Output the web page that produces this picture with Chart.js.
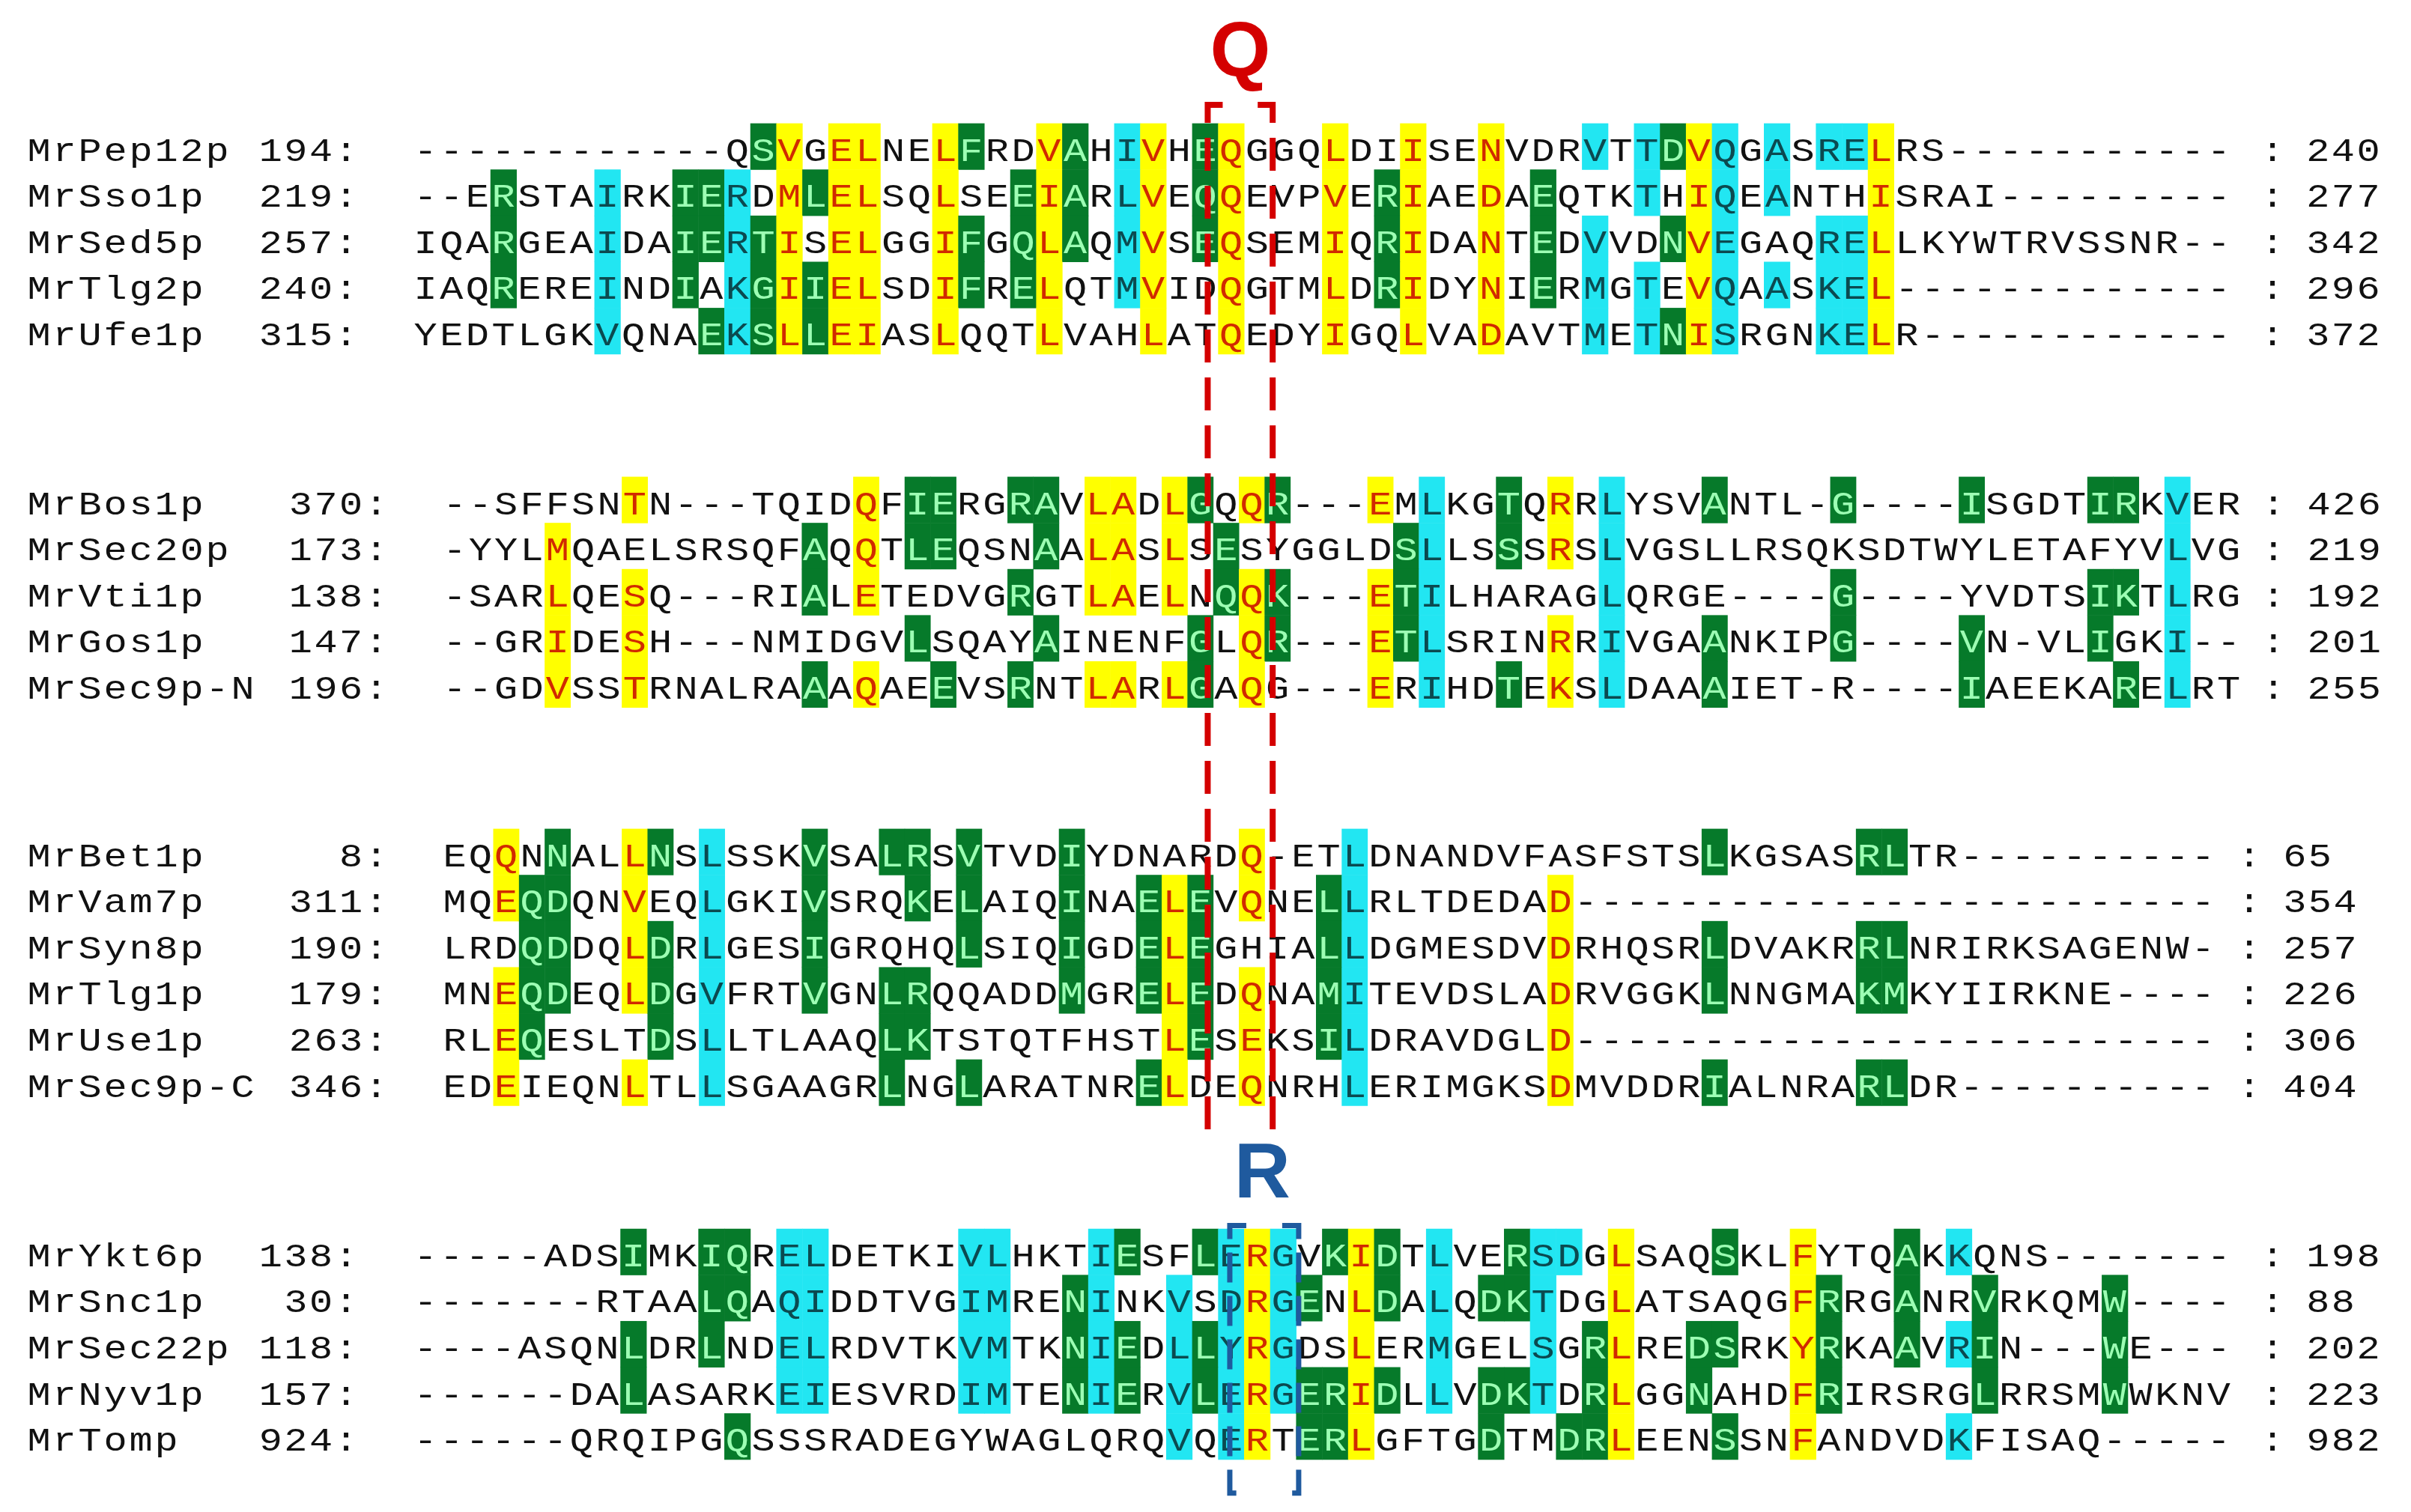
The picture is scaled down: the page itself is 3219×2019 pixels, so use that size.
<!DOCTYPE html>
<html>
<head>
<meta charset="utf-8">
<script src="https://cdn.jsdelivr.net/npm/chart.js@4.4.1/dist/chart.umd.min.js"></script>
<style>
  html, body { margin: 0; padding: 0; background: #fff; }
  #wrap { width: 3219px; height: 2019px; }
</style>
</head>
<body>
<div id="wrap"><canvas id="alignChart"></canvas></div>
<script>
// ---- block 1 (Qa) ----
var block1Names = ['MrPep12p', 'MrSso1p', 'MrSed5p', 'MrTlg2p', 'MrUfe1p'];
var block1Starts = [194, 219, 257, 240, 315];
var block1Ends = [240, 277, 342, 296, 372];
var block1Seqs = [
    '------------QSVGELNELFRDVAHIVHEQGGQLDIISENVDRVTTDVQGASRELRS-----------',
    '--ERSTAIRKIERDMLELSQLSEEIARLVEQQEVPVERIAEDAEQTKTHIQEANTHISRAI---------',
    'IQARGEAIDAIERTISELGGIFGQLAQMVSEQSEMIQRIDANTEDVVDNVEGAQRELLKYWTRVSSNR--',
    'IAQREREINDIAKGIIELSDIFRELQTMVIDQGTMLDRIDYNIERMGTEVQAASKEL-------------',
    'YEDTLGKVQNAEKSLLEIASLQQTLVAHLATQEDYIGQLVADAVTMETNISRGNKELR------------'
];
var block1Yellow = [15, 17, 18, 21, 25, 29, 32, 36, 39, 42, 50, 57];
var block1Green = [
    [14, 22, 26, 31, 49],
    [4, 11, 12, 16, 24, 26, 31, 38, 44],
    [4, 11, 12, 14, 22, 24, 26, 31, 38, 44, 49],
    [4, 11, 14, 16, 22, 24, 38, 44],
    [12, 14, 16, 49]
];
var block1Cyan = [
    [28, 46, 48, 51, 53, 55, 56],
    [8, 13, 28, 48, 51, 53],
    [8, 13, 28, 46, 51, 55, 56],
    [8, 13, 28, 46, 48, 51, 53, 55, 56],
    [8, 13, 46, 48, 51, 55, 56]
];

// ---- block 2 (Qb) ----
var block2Names = ['MrBos1p', 'MrSec20p', 'MrVti1p', 'MrGos1p', 'MrSec9p-N'];
var block2Starts = [370, 173, 138, 147, 196];
var block2Ends = [426, 219, 192, 201, 255];
var block2Seqs = [
    '--SFFSNTN---TQIDQFIERGRAVLADLGQQR---EMLKGTQRRLYSVANTL-G----ISGDTIRKVER',
    '-YYLMQAELSRSQFAQQTLEQSNAALASLSESYGGLDSLLSSSRSLVGSLLRSQKSDTWYLETAFYVLVG',
    '-SARLQESQ---RIALETEDVGRGTLAELNQQK---ETILHARAGLQRGE----G----YVDTSIKTLRG',
    '--GRIDESH---NMIDGVLSQAYAINENFGLQR---ETLSRINRRIVGAANKIPG----VN-VLIGKI--',
    '--GDVSSTRNALRAAAQAEEVSRNTLARLGAQG---ERIHDTEKSLDAAAIET-R----IAEEKARELRT'
];
var block2Yellow = [
    [8, 17, 26, 27, 29, 32, 37, 44],
    [5, 17, 26, 27, 29, 44],
    [5, 8, 17, 26, 27, 29, 32, 37],
    [5, 8, 32, 37, 44],
    [5, 8, 17, 26, 27, 29, 32, 37, 44]
];
var block2Green = [
    [19, 20, 23, 24, 30, 33, 42, 50, 55, 60, 65, 66],
    [15, 19, 20, 24, 31, 38, 42],
    [15, 23, 31, 33, 38, 55, 65, 66],
    [19, 24, 30, 33, 38, 50, 55, 60, 65],
    [15, 20, 23, 30, 42, 50, 60, 66]
];
var block2Cyan = [39, 46, 68];

// ---- block 3 (Qc) ----
var block3Names = ['MrBet1p', 'MrVam7p', 'MrSyn8p', 'MrTlg1p', 'MrUse1p', 'MrSec9p-C'];
var block3Starts = [8, 311, 190, 179, 263, 346];
var block3Ends = [65, 354, 257, 226, 306, 404];
var block3Seqs = [
    'EQQNNALLNSLSSKVSALRSVTVDIYDNARDQ-ETLDNANDVFASFSTSLKGSASRLTR----------',
    'MQEQDQNVEQLGKIVSRQKELAIQINAELEVQNELLRLTDEDAD-------------------------',
    'LRDQDDQLDRLGESIGRQHQLSIQIGDELEGHIALLDGMESDVDRHQSRLDVAKRRLNRIRKSAGENW-',
    'MNEQDEQLDGVFRTVGNLRQQADDMGRELEDQNAMITEVDSLADRVGGKLNNGMAKMKYIIRKNE----',
    'RLEQESLTDSLLTLAAQLKTSTQTFHSTLESEKSILDRAVDGLD-------------------------',
    'EDEIEQNLTLLSGAAGRLNGLARATNRELDEQNRHLERIMGKSDMVDDRIALNRARLDR----------'
];
var block3Yellow = [
    [3, 8, 32],
    [3, 8, 29, 32, 44],
    [8, 29, 44],
    [3, 8, 29, 32, 44],
    [3, 29, 32, 44],
    [3, 8, 29, 32, 44]
];
var block3Green = [
    [5, 9, 15, 18, 19, 21, 25, 50, 56, 57],
    [4, 5, 15, 19, 21, 25, 28, 30, 35],
    [4, 5, 9, 15, 21, 25, 28, 30, 35, 50, 56, 57],
    [4, 5, 9, 15, 18, 19, 25, 28, 30, 35, 50, 56, 57],
    [4, 9, 18, 19, 30, 35],
    [18, 21, 28, 50, 56, 57]
];
var block3Cyan = [11, 36];

// ---- block 4 (R) ----
var block4Names = ['MrYkt6p', 'MrSnc1p', 'MrSec22p', 'MrNyv1p', 'MrTomp'];
var block4Starts = [138, 30, 118, 157, 924];
var block4Ends = [198, 88, 202, 223, 982];
var block4Seqs = [
    '-----ADSIMKIQRELDETKIVLHKTIESFLERGVKIDTLVERSDGLSAQSKLFYTQAKKQNS-------',
    '-------RTAALQAQIDDTVGIMRENINKVSDRGENLDALQDKTDGLATSAQGFRRGANRVRKQMW----',
    '----ASQNLDRLNDELRDVTKVMTKNIEDLLYRGDSLERMGELSGRLREDSRKYRKAAVRIN---WE---',
    '------DALASARKEIESVRDIMTENIERVLERGERIDLLVDKTDRLGGNAHDFRIRSRGLRRSMWWKNV',
    '------QRQIPGQSSSRADEGYWAGLQRQVQERTERLGFTGDTMDRLEENSSNFANDVDKFISAQ-----'
];
var block4Yellow = [33, 37, 47, 54];
var block4Green = [
    [9, 12, 13, 28, 31, 36, 38, 43, 51, 58],
    [12, 13, 26, 35, 38, 42, 43, 55, 58, 61, 66],
    [9, 12, 26, 28, 31, 46, 50, 51, 55, 58, 61, 66],
    [9, 26, 28, 31, 35, 36, 38, 42, 43, 46, 50, 55, 61, 66],
    [13, 35, 36, 42, 45, 46, 51]
];
var block4Cyan = [
    [15, 16, 22, 23, 27, 32, 34, 40, 44, 45, 60],
    [15, 16, 22, 23, 27, 30, 32, 34, 40, 44],
    [15, 16, 22, 23, 27, 30, 32, 34, 40, 44, 60],
    [15, 16, 22, 23, 27, 30, 32, 34, 40, 44],
    [30, 32, 60]
];

var markerLabels = ['Q', 'R'];

// ---- layout (column / row units of the axes) ----
function perRow(v, n) {
    var out = [];
    for (var i = 0; i < n; i++) out.push(Array.isArray(v[0]) ? v[i] : v);
    return out;
}
var blocks = [
    {names: block1Names, starts: block1Starts, ends: block1Ends, seqs: block1Seqs,
     yellow: perRow(block1Yellow, 5), green: block1Green, cyan: block1Cyan,
     x0: 1, step: 1, y0: 0, endGap: 2.07},
    {names: block2Names, starts: block2Starts, ends: block2Ends, seqs: block2Seqs,
     yellow: block2Yellow, green: block2Green, cyan: perRow(block2Cyan, 5),
     x0: 2.124, step: 0.9893, y0: 7.66, endGap: 1.72},
    {names: block3Names, starts: block3Starts, ends: block3Ends, seqs: block3Seqs,
     yellow: block3Yellow, green: block3Green, cyan: perRow(block3Cyan, 6),
     x0: 2.124, step: 0.9893, y0: 15.29, endGap: 1.78},
    {names: block4Names, starts: block4Starts, ends: block4Ends, seqs: block4Seqs,
     yellow: perRow(block4Yellow, 5), green: block4Green, cyan: block4Cyan,
     x0: 1, step: 1, y0: 23.96, endGap: 2.07}
];

var COLORS = {
    green: '#067a2a', greenText: '#9dffb4',
    yellow: '#ffff00', yellowText: '#d12a00',
    cyan: '#22e6f2', cyanText: '#0b4a50',
    text: '#111111'
};

// one invisible point per residue so the scales carry the data
var points = [];
blocks.forEach(function(b) {
    b.seqs.forEach(function(s, r) {
        for (var c = 1; c <= s.length; c++) {
            points.push({x: b.x0 + (c - 1) * b.step, y: b.y0 + r});
        }
    });
});

function kindOf(b, r, c) {
    if (b.green[r].indexOf(c) >= 0) return 'green';
    if (b.yellow[r].indexOf(c) >= 0) return 'yellow';
    if (b.cyan[r].indexOf(c) >= 0) return 'cyan';
    return null;
}

var FONT = '44px "Liberation Mono", "DejaVu Sans Mono", monospace';

function drawChar(ctx, ch, x, y, color) {
    ctx.save();
    ctx.translate(x, y);
    ctx.scale(1.18, 1);
    ctx.fillStyle = color;
    ctx.fillText(ch, 0, 0);
    ctx.restore();
}

var alignPlugin = {
    id: 'alignPlugin',
    afterDatasetsDraw: function(chart) {
        var ctx = chart.ctx;
        var xs = chart.scales.x, ys = chart.scales.y;
        var rowH = ys.getPixelForValue(1) - ys.getPixelForValue(0);
        var colW = xs.getPixelForValue(1) - xs.getPixelForValue(0);
        ctx.save();
        ctx.font = FONT;
        ctx.textAlign = 'center';
        ctx.textBaseline = 'middle';

        blocks.forEach(function(b) {
            var w = colW * b.step;
            // highlight cells
            b.seqs.forEach(function(s, r) {
                var py = ys.getPixelForValue(b.y0 + r);
                for (var c = 1; c <= s.length; c++) {
                    var k = kindOf(b, r, c);
                    if (!k) continue;
                    var px = xs.getPixelForValue(b.x0 + (c - 1) * b.step);
                    ctx.fillStyle = COLORS[k];
                    ctx.fillRect(px - w / 2, py - rowH * 0.59, w + 0.5, rowH + 0.5);
                }
            });
            // residues and labels
            b.seqs.forEach(function(s, r) {
                var py = ys.getPixelForValue(b.y0 + r) + 2;
                for (var c = 1; c <= s.length; c++) {
                    var k = kindOf(b, r, c);
                    var px = xs.getPixelForValue(b.x0 + (c - 1) * b.step);
                    drawChar(ctx, s[c - 1], px, py, k ? COLORS[k + 'Text'] : COLORS.text);
                }
                var name = b.names[r];
                for (var i = 0; i < name.length; i++) {
                    drawChar(ctx, name[i], xs.getPixelForValue(-13.87 + i * 0.98), py, COLORS.text);
                }
                var st = String(b.starts[r]) + ':';
                var colonX = b.x0 - 3.05 * b.step;
                for (var j = 0; j < st.length; j++) {
                    drawChar(ctx, st[st.length - 1 - j], xs.getPixelForValue(colonX - j * 0.97), py, COLORS.text);
                }
                var endCol = b.x0 + (s.length - 1) * b.step + b.endGap;
                drawChar(ctx, ':', xs.getPixelForValue(endCol), py, COLORS.text);
                var en = String(b.ends[r]);
                for (var e = 0; e < en.length; e++) {
                    drawChar(ctx, en[e], xs.getPixelForValue(endCol + 1.75 + e * 0.97), py, COLORS.text);
                }
            });
        });

        // Q / R motif boxes
        ctx.lineWidth = 8;
        ctx.setLineDash([44, 20]);
        ctx.strokeStyle = '#d40000';
        var qx1 = xs.getPixelForValue(31.1), qx2 = xs.getPixelForValue(33.6);
        var qy1 = ys.getPixelForValue(-0.99), qy2 = ys.getPixelForValue(21.4);
        ctx.beginPath();
        ctx.moveTo(qx1 + 20, qy1); ctx.lineTo(qx1, qy1); ctx.lineTo(qx1, qy2);
        ctx.moveTo(qx2 - 20, qy1); ctx.lineTo(qx2, qy1); ctx.lineTo(qx2, qy2);
        ctx.stroke();

        ctx.strokeStyle = '#1f5a9e';
        ctx.lineWidth = 7;
        ctx.setLineDash([40, 18]);
        var rx1 = xs.getPixelForValue(31.95), rx2 = xs.getPixelForValue(34.6);
        var ry1 = ys.getPixelForValue(23.3), ry2 = ys.getPixelForValue(29.1);
        ctx.beginPath();
        ctx.moveTo(rx1 + 22, ry1); ctx.lineTo(rx1, ry1); ctx.lineTo(rx1, ry2); ctx.lineTo(rx1 + 22, ry2);
        ctx.moveTo(rx2 - 22, ry1); ctx.lineTo(rx2, ry1); ctx.lineTo(rx2, ry2); ctx.lineTo(rx2 - 22, ry2);
        ctx.stroke();
        ctx.setLineDash([]);

        ctx.font = 'bold 104px "Liberation Sans", Arial, sans-serif';
        ctx.fillStyle = '#d40000';
        ctx.fillText(markerLabels[0], xs.getPixelForValue(32.35), ys.getPixelForValue(-2.08));
        ctx.fillStyle = '#1f5a9e';
        ctx.fillText(markerLabels[1], xs.getPixelForValue(33.2), ys.getPixelForValue(22.22));
        ctx.restore();
    }
};

var chart = new Chart(document.getElementById('alignChart'), {
    type: 'scatter',
    data: {
        datasets: [{
            data: points,
            pointRadius: 0,
            pointHoverRadius: 0
        }]
    },
    options: {
        responsive: true,
        maintainAspectRatio: false,
        devicePixelRatio: 1,
        animation: false,
        layout: { padding: 0 },
        scales: {
            x: { type: 'linear', display: false, min: -15.37, max: 77.40 },
            y: { type: 'linear', display: false, min: -3.263, max: 29.51, reverse: true }
        },
        plugins: {
            legend: { display: false },
            tooltip: { enabled: false }
        }
    },
    plugins: [alignPlugin]
});
</script>
</body>
</html>
